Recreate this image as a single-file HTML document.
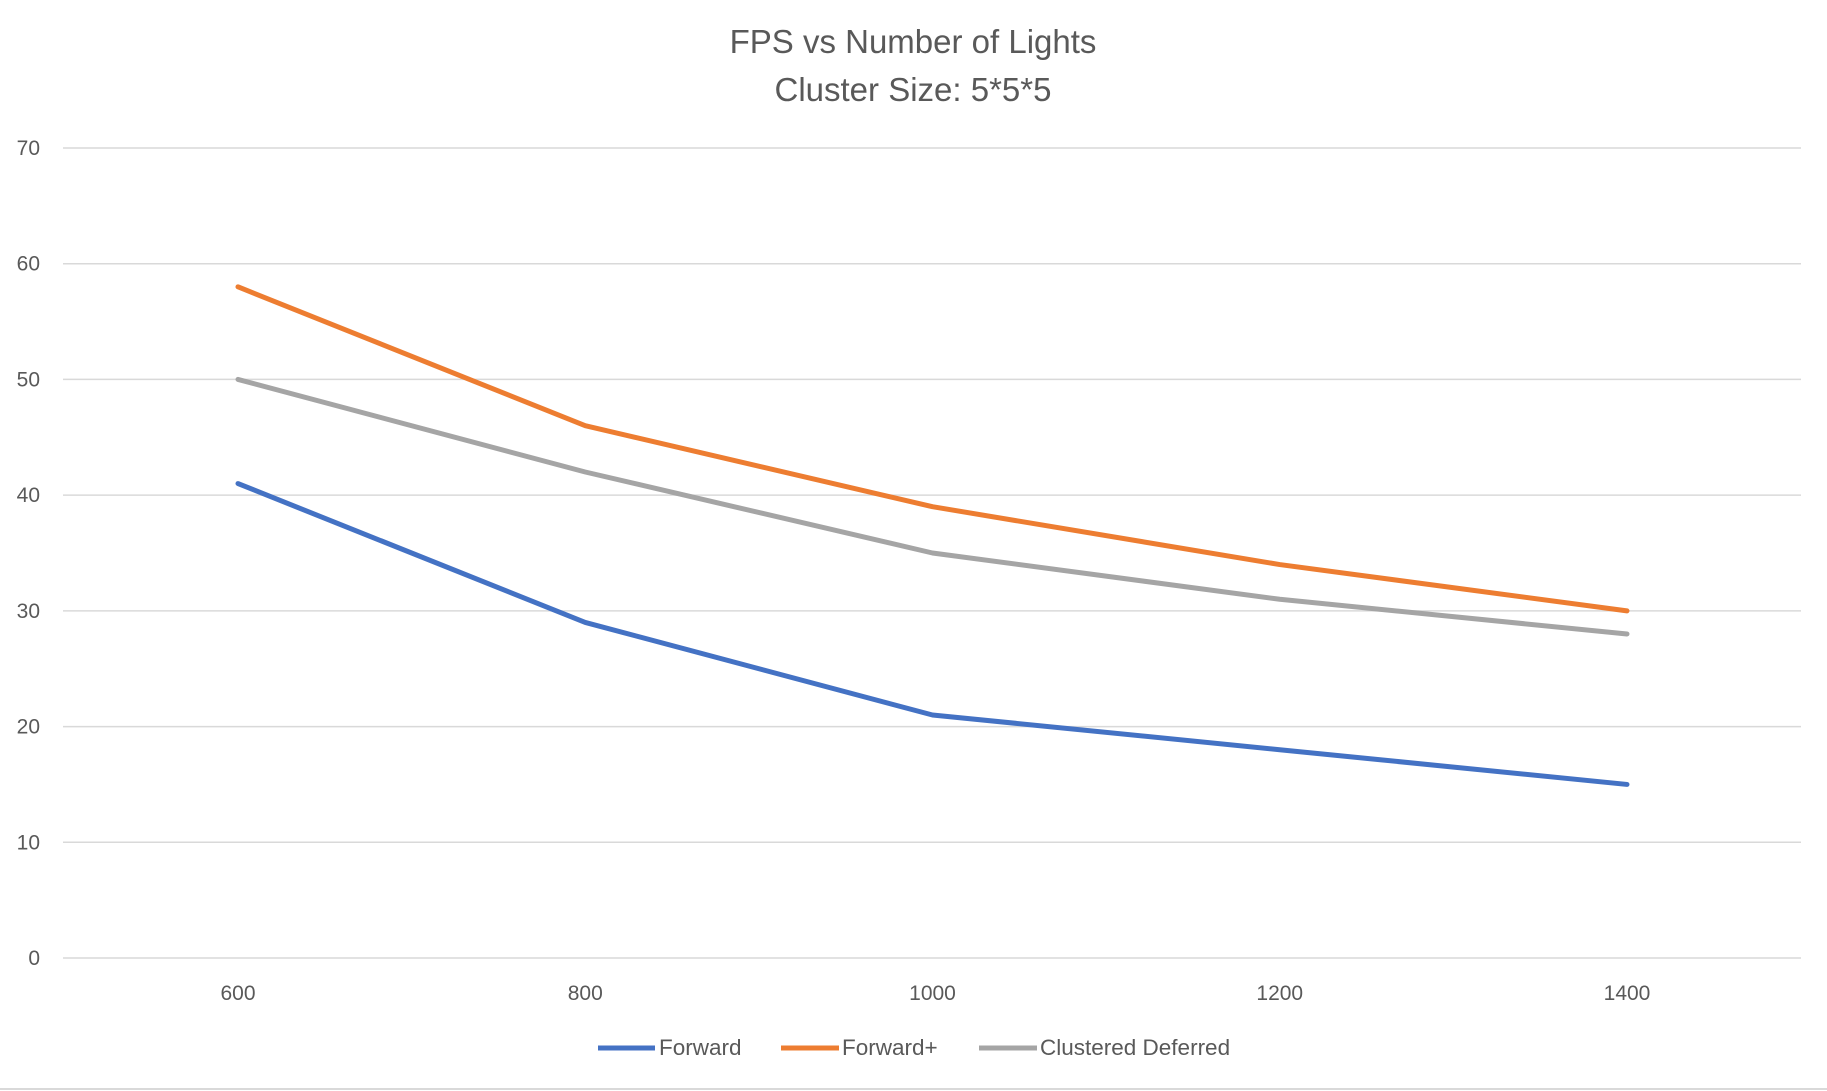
<!DOCTYPE html>
<html><head><meta charset="utf-8"><style>
html,body{margin:0;padding:0;background:#fff;}
svg{display:block;font-family:"Liberation Sans",sans-serif;}
</style></head><body>
<svg id="chart" width="1827" height="1091" viewBox="0 0 1827 1091">
<text x="913" y="53" text-anchor="middle" font-size="33" fill="#595959">FPS vs Number of Lights</text>
<text x="913" y="101" text-anchor="middle" font-size="33" fill="#595959">Cluster Size: 5*5*5</text>
<g id="grid"></g><g id="lines"></g><g id="xlabels"></g>
<g>
<line x1="598" y1="1048" x2="655" y2="1048" stroke="#4472C4" stroke-width="5"/>
<text x="659" y="1055" font-size="22.5" fill="#595959">Forward</text>
<line x1="781" y1="1048" x2="839" y2="1048" stroke="#ED7D31" stroke-width="5"/>
<text x="842" y="1055" font-size="22.5" fill="#595959">Forward+</text>
<line x1="979" y1="1048" x2="1037" y2="1048" stroke="#A5A5A5" stroke-width="5"/>
<text x="1040" y="1055" font-size="22.5" fill="#595959">Clustered Deferred</text>
</g>
<line x1="0" y1="1089" x2="1827" y2="1089" stroke="#d9d9d9" stroke-width="2"/>
</svg>
<script>
const categories=[600,800,1000,1200,1400];
const forward=[41,29,21,18,15];
const forwardPlus=[58,46,39,34,30];
const clusteredDeferred=[50,42,35,31,28];
const yTicks=[0,10,20,30,40,50,60,70];
const NS="http://www.w3.org/2000/svg";
const x=i=>238+i*347.25;
const y=v=>958-v*(810/70);
const grid=document.getElementById('grid');
yTicks.forEach(t=>{
  const l=document.createElementNS(NS,'line');
  l.setAttribute('x1',63);l.setAttribute('x2',1801);
  l.setAttribute('y1',y(t));l.setAttribute('y2',y(t));
  l.setAttribute('stroke','#d9d9d9');l.setAttribute('stroke-width','1.5');
  
  
  grid.appendChild(l);
  const tx=document.createElementNS(NS,'text');
  tx.setAttribute('x',40);tx.setAttribute('y',y(t)+7);
  tx.setAttribute('text-anchor','end');tx.setAttribute('font-size','21');tx.setAttribute('fill','#595959');
  tx.textContent=t;
  
  
  grid.appendChild(tx);
});
const xl=document.getElementById('xlabels');
categories.forEach((c,i)=>{
  const tx=document.createElementNS(NS,'text');
  tx.setAttribute('x',x(i));tx.setAttribute('y',1000);
  tx.setAttribute('text-anchor','middle');tx.setAttribute('font-size','21');tx.setAttribute('fill','#595959');
  tx.textContent=c;
  
  
  xl.appendChild(tx);
});
const lines=document.getElementById('lines');
[[forward,'#4472C4','series-forward'],[forwardPlus,'#ED7D31','series-forward-plus'],[clusteredDeferred,'#A5A5A5','series-clustered-deferred']].forEach(([d,c,n])=>{
  const p=document.createElementNS(NS,'polyline');
  p.setAttribute('points',d.map((v,i)=>x(i)+','+y(v)).join(' '));
  p.setAttribute('fill','none');p.setAttribute('stroke',c);p.setAttribute('stroke-width','5');
  p.setAttribute('stroke-linecap','round');p.setAttribute('stroke-linejoin','round');
  
  
  lines.appendChild(p);
});
</script>
</body></html>
